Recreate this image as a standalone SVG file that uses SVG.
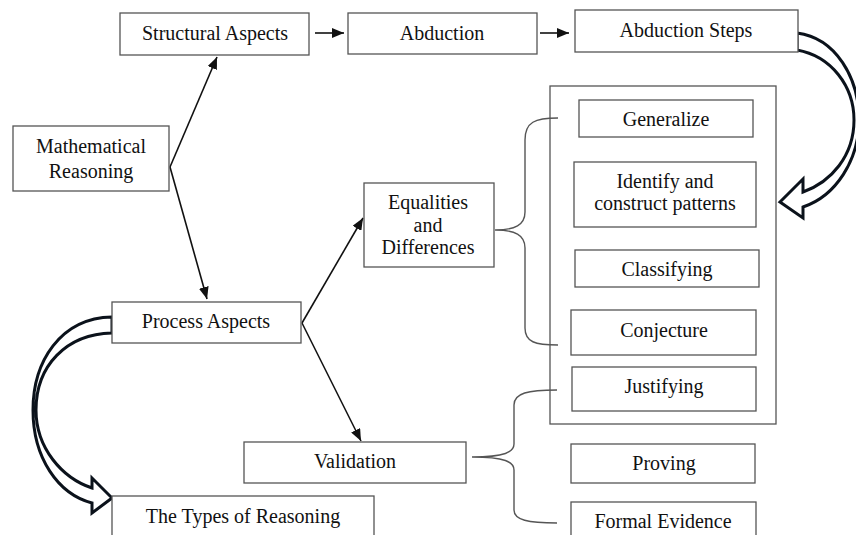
<svg xmlns="http://www.w3.org/2000/svg" width="856" height="535" viewBox="0 0 856 535">
<style>
.box{fill:#fff;stroke:#555;stroke-width:1.3}
.t{font-family:"Liberation Serif","Times New Roman",serif;font-size:20px;fill:#111;text-anchor:middle}
.ln{stroke:#111;stroke-width:1.6;fill:none}
.br{stroke:#555;stroke-width:1.4;fill:none}
.big{fill:#fff;stroke:#0b121b;stroke-width:3;stroke-linejoin:miter}
</style>
<defs>
<marker id="ah" viewBox="0 0 12 10" refX="12" refY="5" markerWidth="12" markerHeight="10" markerUnits="userSpaceOnUse" orient="auto">
<path d="M0,0 L12,5 L0,10 Z" fill="#111"/>
</marker>
</defs>
<rect width="856" height="535" fill="#fff"/>
<g id="container"><rect class="box" x="550" y="86" width="226" height="338"/></g>
<g id="connectors">
<line class="ln" x1="315" y1="33" x2="344" y2="33" marker-end="url(#ah)"/>
<line class="ln" x1="540" y1="33" x2="569" y2="33" marker-end="url(#ah)"/>
<line class="ln" x1="170" y1="167" x2="217" y2="57" marker-end="url(#ah)"/>
<line class="ln" x1="170" y1="167" x2="207" y2="299" marker-end="url(#ah)"/>
<line class="ln" x1="302" y1="323" x2="363" y2="218" marker-end="url(#ah)"/>
<line class="ln" x1="302" y1="323" x2="361" y2="441" marker-end="url(#ah)"/>
<path class="br" d="M558,118 C535,118 525,122 525,140 L525,212 C525,225 515,230 495,230 C515,230 525,235 525,248 L525,328 C525,342 535,345 558,345"/>
<path class="br" d="M557,390 C528,390 514,393 514,405 L514,444 C514,452 505,457 472,457 C505,457 514,462 514,470 L514,510 C514,520 528,523 557,523"/>
<path class="big" d="M797,33 C836,38 859,78 859,120 C859,160 836,196 803,207 L803,218 L780,202 L803,179 L803,192 C831,182 854,156 854,120 C854,86 831,56 797,50 Z"/>
<path class="big" d="M112,317 C60,318 33,362 33,410 C33,458 58,494 92,503 L92,513 L112,498 L92,478 L92,488 C62,478 36,448 36,410 C36,366 66,334 112,333 Z"/>
</g>
<g id="n-structural"><rect class="box" x="120" y="13" width="189" height="42"/><text class="t" x="215" y="40">Structural Aspects</text></g>
<g id="n-abduction"><rect class="box" x="348" y="13" width="189" height="41"/><text class="t" x="442" y="40">Abduction</text></g>
<g id="n-steps"><rect class="box" x="575" y="10" width="223" height="42"/><text class="t" x="686" y="37">Abduction Steps</text></g>
<g id="n-math"><rect class="box" x="13" y="126" width="156" height="65"/><text class="t" x="91" y="153">Mathematical</text><text class="t" x="91" y="178">Reasoning</text></g>
<g id="n-process"><rect class="box" x="112" y="302" width="189" height="41"/><text class="t" x="206" y="328">Process Aspects</text></g>
<g id="n-equal"><rect class="box" x="364" y="183" width="130" height="84"/><text class="t" x="428" y="209">Equalities</text><text class="t" x="428" y="231.5">and</text><text class="t" x="428" y="254">Differences</text></g>
<g id="n-validation"><rect class="box" x="244" y="442" width="222" height="41"/><text class="t" x="355" y="468">Validation</text></g>
<g id="n-types"><rect class="box" x="112" y="496" width="262" height="50"/><text class="t" x="243" y="523">The Types of Reasoning</text></g>
<g id="n-generalize"><rect class="box" x="579" y="100" width="174" height="37"/><text class="t" x="666" y="126">Generalize</text></g>
<g id="n-identify"><rect class="box" x="574" y="162" width="182" height="65"/><text class="t" x="665" y="188">Identify and</text><text class="t" x="665" y="210">construct patterns</text></g>
<g id="n-classify"><rect class="box" x="575" y="250" width="184" height="37"/><text class="t" x="667" y="276">Classifying</text></g>
<g id="n-conjecture"><rect class="box" x="571" y="310" width="185" height="45"/><text class="t" x="664" y="337">Conjecture</text></g>
<g id="n-justifying"><rect class="box" x="572" y="367" width="184" height="44"/><text class="t" x="664" y="393">Justifying</text></g>
<g id="n-proving"><rect class="box" x="571" y="444" width="184" height="39"/><text class="t" x="664" y="470">Proving</text></g>
<g id="n-formal"><rect class="box" x="571" y="502" width="185" height="44"/><text class="t" x="663" y="528">Formal Evidence</text></g>
</svg>
